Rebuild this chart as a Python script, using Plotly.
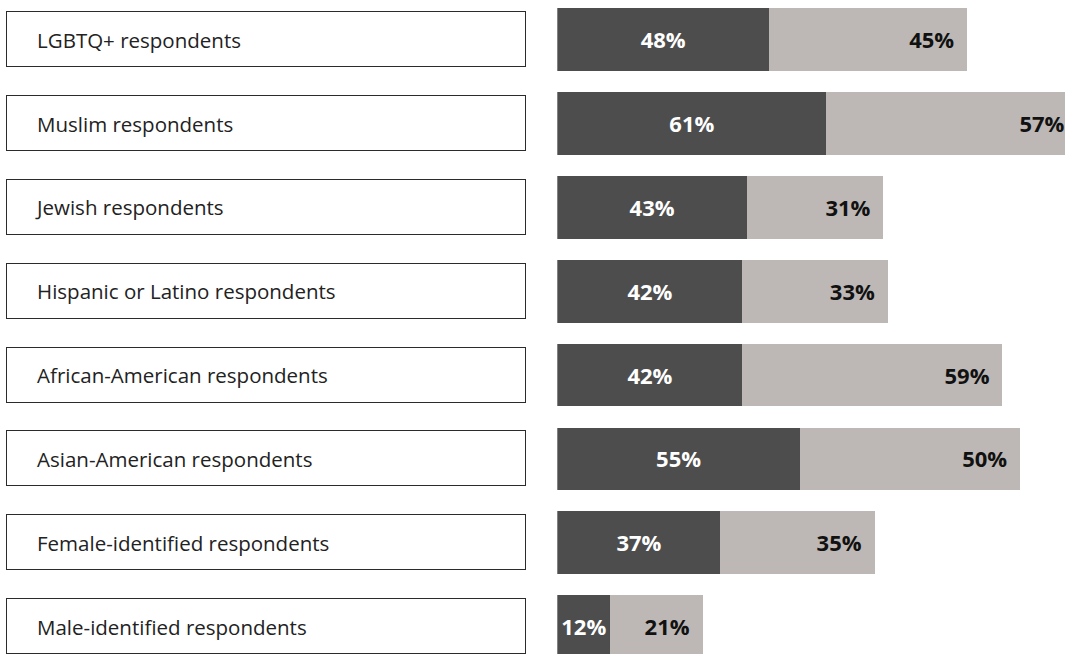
import plotly.graph_objects as go

categories = [
    "LGBTQ+ respondents",
    "Muslim respondents",
    "Jewish respondents",
    "Hispanic or Latino respondents",
    "African-American respondents",
    "Asian-American respondents",
    "Female-identified respondents",
    "Male-identified respondents",
]
dark_values = [48, 61, 43, 42, 42, 55, 37, 12]
light_values = [45, 57, 31, 33, 59, 50, 35, 21]

W, H = 1065, 654
DARK = "#4d4d4d"
LIGHT = "#bdb8b5"
FONT = "Open Sans"

totals = [d + l for d, l in zip(dark_values, light_values)]
dark_lbl_x = [d / 2 for d in dark_values]
light_lbl_x = [t - 3.0 for t in totals]

fig = go.Figure()

# label boxes (on x2)
fig.add_trace(go.Bar(
    y=categories, x=[1] * len(categories), orientation="h",
    xaxis="x2", yaxis="y", width=0.655,
    marker=dict(color="white", line=dict(color="#2b2b2b", width=1.5)),
    hoverinfo="skip", showlegend=False,
))
fig.add_trace(go.Scatter(
    y=categories, x=[0.057] * len(categories), mode="text",
    xaxis="x2", yaxis="y2", text=categories, textposition="middle right",
    textfont=dict(family=FONT, size=20.5, color="#222222"),
    hoverinfo="skip", showlegend=False,
))

# stacked bars
fig.add_trace(go.Bar(
    y=categories, x=dark_values, orientation="h", width=0.748,
    marker=dict(color=DARK, line=dict(width=0)),
    hoverinfo="skip", showlegend=False,
))
fig.add_trace(go.Bar(
    y=categories, x=light_values, orientation="h", width=0.748,
    marker=dict(color=LIGHT, line=dict(width=0)),
    hoverinfo="skip", showlegend=False,
))
fig.add_trace(go.Scatter(
    y=categories, x=dark_lbl_x, mode="text", yaxis="y2",
    text=[f"{v}%" for v in dark_values], textposition="middle center",
    textfont=dict(family=FONT, size=22, color="white", weight="bold"),
    hoverinfo="skip", showlegend=False, cliponaxis=False,
))
fig.add_trace(go.Scatter(
    y=categories, x=light_lbl_x, mode="text", yaxis="y2",
    text=[f"{v}%" for v in light_values], textposition="middle left",
    textfont=dict(family=FONT, size=22, color="#111111", weight="bold"),
    hoverinfo="skip", showlegend=False, cliponaxis=False,
))

px_per_unit = 4.41
x0_px = 557.3
xmax = (W - x0_px) / px_per_unit

pitch = 83.85
c0 = 39.65
ytop = -c0 / pitch
ybot = (H - c0) / pitch
shift = 3.0 / pitch  # move text layer down by 3px

fig.update_layout(
    width=W, height=H,
    margin=dict(l=0, r=0, t=0, b=0),
    paper_bgcolor="white", plot_bgcolor="rgba(0,0,0,0)",
    barmode="stack", bargap=0,
    showlegend=False,
    xaxis=dict(domain=[x0_px / W, 1], range=[0, xmax], visible=False, fixedrange=True),
    xaxis2=dict(domain=[5 / W, 528 / W], range=[-0.0048, 1.0039], visible=False,
                anchor="y", fixedrange=True),
    yaxis=dict(type="category", categoryorder="array", categoryarray=categories,
               range=[ybot, ytop], visible=False, fixedrange=True),
    yaxis2=dict(type="category", categoryorder="array", categoryarray=categories,
                range=[ybot - shift, ytop - shift], visible=False, fixedrange=True,
                overlaying="y"),
)

post = (
    "document.body.style.margin='0';"
    "document.body.style.padding='0';"
    "document.body.style.overflow='hidden';"
    "document.documentElement.style.overflow='hidden';"
)

fig.write_html("out.html", config={"displayModeBar": False}, post_script=post)
